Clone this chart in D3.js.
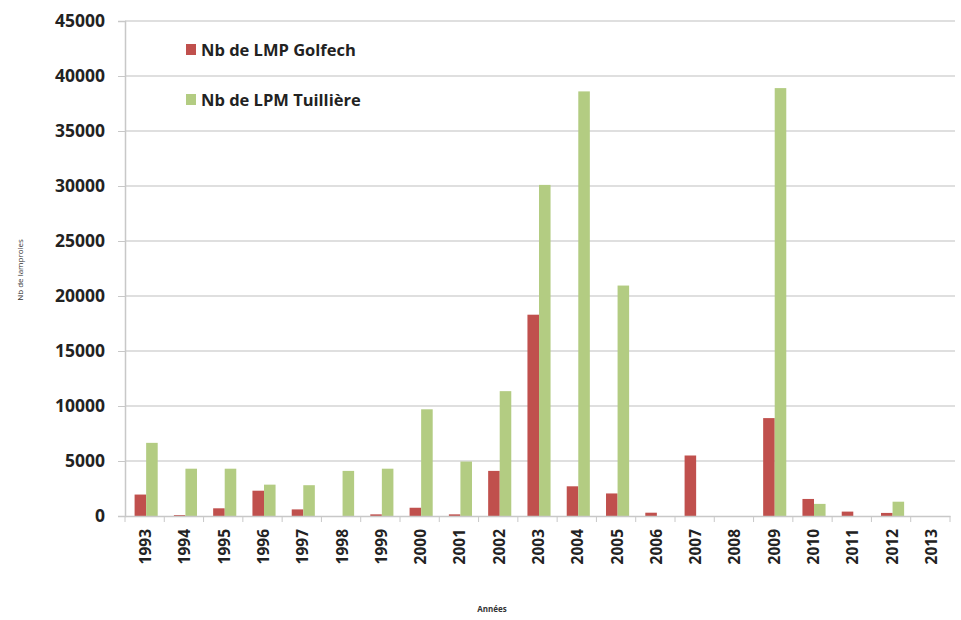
<!DOCTYPE html>
<html><head><meta charset="utf-8">
<script src="https://cdn.jsdelivr.net/npm/d3@7"></script>
<style>body{margin:0;background:#fff;} svg{display:block;}</style>
</head><body>
<svg id="c" width="961" height="620"></svg>
<script>
const years = ["1993","1994","1995","1996","1997","1998","1999","2000","2001","2002","2003","2004","2005","2006","2007","2008","2009","2010","2011","2012","2013"];
const golfech = [1950,80,700,2300,600,0,150,750,150,4100,18300,2700,2050,300,5500,0,8900,1550,400,280,0];
const tuilliere = [6650,4300,4300,2850,2800,4100,4300,9700,4950,11350,30100,38600,20950,0,0,0,38900,1100,0,1300,0];
const seriesNames = ["Nb de LMP Golfech","Nb de LPM Tuillière"];
const seriesColors = ["#c0504d","#b3cc82"];
const yTicks = [0,5000,10000,15000,20000,25000,30000,35000,40000,45000];

const svg = d3.select("#c");
const L = 125, R = 950, T = 21, B = 516;
const FONT = "Open Sans, DejaVu Sans, sans-serif";
const x = d3.scaleBand().domain(years).range([L, R]).padding(0);
const y = d3.scaleLinear().domain([0, 45000]).range([B, T]);
const inner = d3.scaleBand().domain([0,1]).range([0, x.bandwidth()]).paddingInner(0).paddingOuter(0.7);

// gridlines
svg.append("g").selectAll("line").data(yTicks.filter(d => d > 0)).join("line")
  .attr("x1", L).attr("x2", R + 5).attr("y1", d => y(d)).attr("y2", d => y(d))
  .attr("stroke", "#d4d4d4").attr("stroke-width", 1.5);

// y axis
const yAxis = svg.append("g").attr("transform", `translate(${L},0)`)
  .call(d3.axisLeft(y).tickValues(yTicks).tickSize(7).tickPadding(13).tickFormat(d3.format("d")));
yAxis.select(".domain").attr("stroke", "#c8c8c8").attr("stroke-width", 1.5);
yAxis.selectAll(".tick line").attr("stroke", "#c8c8c8");
yAxis.selectAll("text").attr("font-family", FONT)
  .attr("font-size", 17.5).attr("font-weight", "bold").attr("fill", "#222");

// bars
const groups = svg.append("g").selectAll("g").data(years).join("g")
  .attr("transform", d => `translate(${x(d)},0)`);
[golfech, tuilliere].forEach((vals, si) => {
  groups.append("rect")
    .attr("x", inner(si) + 1.5).attr("width", inner.bandwidth())
    .attr("y", (d, i) => y(vals[i])).attr("height", (d, i) => B - y(vals[i]))
    .attr("fill", seriesColors[si]);
});

// x axis
const xAxis = svg.append("g").attr("transform", `translate(0,${B})`)
  .call(d3.axisBottom(x).tickSize(0).tickPadding(0));
xAxis.select(".domain").attr("stroke", "#c8c8c8").attr("stroke-width", 1.5);
xAxis.selectAll(".tick text")
  .attr("transform", "rotate(-90)").attr("text-anchor", "end")
  .attr("x", -13).attr("y", 1).attr("dy", "0.35em")
  .attr("font-family", FONT)
  .attr("font-size", 15.5).attr("font-weight", "bold").attr("fill", "#222");
// boundary ticks
svg.append("g").selectAll("line").data(years.concat(["end"])).join("line")
  .attr("x1", (d, i) => L + i * x.bandwidth()).attr("x2", (d, i) => L + i * x.bandwidth())
  .attr("y1", B).attr("y2", B + 6).attr("stroke", "#c8c8c8");

// legend
const leg = svg.append("g");
seriesNames.forEach((n, i) => {
  const ly = 50 + i * 50;
  leg.append("rect").attr("x", 186).attr("y", ly - 6).attr("width", 10).attr("height", 11).attr("fill", seriesColors[i]);
  leg.append("text").attr("x", 201).attr("y", ly).attr("dy", "0.35em")
    .attr("font-family", FONT).attr("font-size", 16.5)
    .attr("font-weight", "bold").attr("fill", "#222").text(n);
});

// axis titles
svg.append("text").attr("transform", "translate(20,270) rotate(-90)").attr("text-anchor", "middle")
  .attr("dy", "0.35em").attr("font-family", FONT).attr("font-size", 8)
  .attr("fill", "#333").text("Nb de lamproies");
svg.append("text").attr("x", 492).attr("y", 612).attr("text-anchor", "middle")
  .attr("font-family", FONT).attr("font-size", 8).attr("font-weight", "bold")
  .attr("fill", "#333").text("Années");
</script>
</body></html>
